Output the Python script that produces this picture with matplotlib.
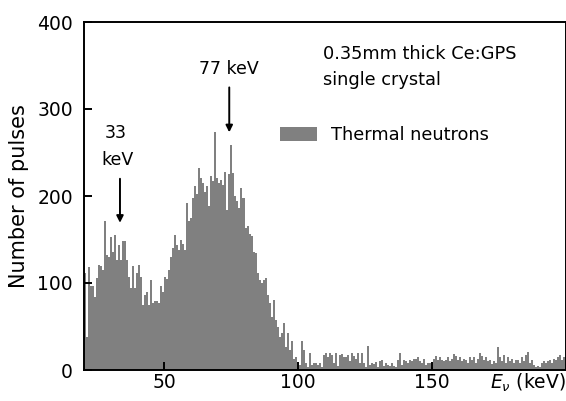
import numpy as np
import matplotlib
matplotlib.use("Agg")
import matplotlib.pyplot as plt

plt.rcParams['font.family'] = ['DejaVu Sans']
plt.rcParams['mathtext.fontset'] = 'dejavusans'

bin_start = 20.0
bin_width = 0.75
counts = [
    # 20 - 62 keV
    112, 38, 118, 96, 96, 84, 106, 121, 119, 115, 171, 132, 130, 153, 136, 155,
    127, 144, 127, 148, 148, 127, 107, 94, 119, 94, 111, 121, 107, 75, 86, 90,
    75, 104, 77, 79, 79, 77, 96, 90, 107, 105, 115, 130, 140, 155, 144, 138,
    150, 145, 138, 192, 171, 175, 198, 211, 202,
    # 62.75 - 105.5 keV
    232, 221, 215, 205, 211, 188, 223, 217, 273, 221, 215, 218, 213, 228, 184, 225,
    259, 226, 200, 194, 186, 209, 198, 163, 165, 156, 154, 136, 134, 111, 104, 100,
    104, 106, 86, 77, 61, 81, 58, 50, 38, 42, 54, 27, 42, 23, 33, 13,
    15, 2, 6, 33, 23, 8, 4, 19, 6, 8,
    # 106.25 - 199.25 keV
    8, 6, 8, 4, 17, 19, 15, 20, 17, 8, 19, 5, 17, 18, 15, 15,
    17, 10, 19, 16, 13, 20, 8, 20, 8, 4, 28, 6, 8, 7, 9, 4,
    10, 11, 5, 8, 6, 5, 8, 5, 4, 12, 20, 6, 12, 10, 8, 12,
    10, 13, 13, 15, 10, 8, 13, 6, 8, 8, 4, 13, 16, 12, 15, 11,
    10, 12, 15, 10, 13, 18, 16, 12, 15, 10, 13, 12, 8, 15, 11, 15,
    8, 13, 20, 16, 12, 15, 10, 12, 7, 10, 8, 27, 15, 10, 17, 8,
    15, 10, 13, 8, 11, 12, 8, 15, 10, 17, 21, 8, 12, 6, 4, 5,
    3, 8, 10, 8, 10, 12, 8, 13, 11, 15, 17, 12, 15,
]
x_ticks = [50, 100, 150]
y_ticks = [0, 100, 200, 300, 400]

edges = bin_start + bin_width * np.arange(len(counts) + 1)

fig = plt.figure(figsize=(5.66, 4.01), dpi=100)
ax = fig.add_axes([84/566, 31/401, (565.5-84)/566, (370-22)/401])

ax.stairs(counts, edges, fill=True, color='#808080', linewidth=0,
          label='Thermal neutrons')

ax.set_xlim(20, 200)
ax.set_ylim(0, 400)
ax.set_xticks(x_ticks)
ax.set_yticks(y_ticks)
ax.tick_params(direction='in', length=6, width=1.4, labelsize=13.5)
ax.tick_params(axis='y', pad=8)
ax.tick_params(axis='x', pad=2)
for s in ax.spines.values():
    s.set_linewidth(1.4)

ax.set_ylabel('Number of pulses', fontsize=15, labelpad=6)
ax.text(1.0, -0.037, r'$E_{\nu}$ (keV)', transform=ax.transAxes,
        ha='right', va='center', fontsize=13.5)

ax.text(0.4964, 0.8937, '0.35mm thick Ce:GPS', transform=ax.transAxes,
        ha='left', va='baseline', fontsize=12.8)
ax.text(0.4964, 0.819, 'single crystal', transform=ax.transAxes,
        ha='left', va='baseline', fontsize=12.8)

ax.legend(loc='center left', bbox_to_anchor=(0.407, 0.675), frameon=False,
          fontsize=12.8, handlelength=2.1, handleheight=0.9,
          handletextpad=0.75, borderpad=0, borderaxespad=0)

ax.annotate('', xy=(33.45, 166), xytext=(33.45, 223),
            arrowprops=dict(arrowstyle='-|>', color='black', lw=1.4,
                            mutation_scale=10))
ax.text(32.0, 272, '33', ha='center', va='center', fontsize=12.5)
ax.text(32.7, 241, 'keV', ha='center', va='center', fontsize=12.5)

ax.annotate('', xy=(74.3, 270), xytext=(74.3, 328),
            arrowprops=dict(arrowstyle='-|>', color='black', lw=1.4,
                            mutation_scale=10))
ax.text(74.0, 346, '77 keV', ha='center', va='center', fontsize=12.5)

fig.savefig('out.png', dpi=100)
